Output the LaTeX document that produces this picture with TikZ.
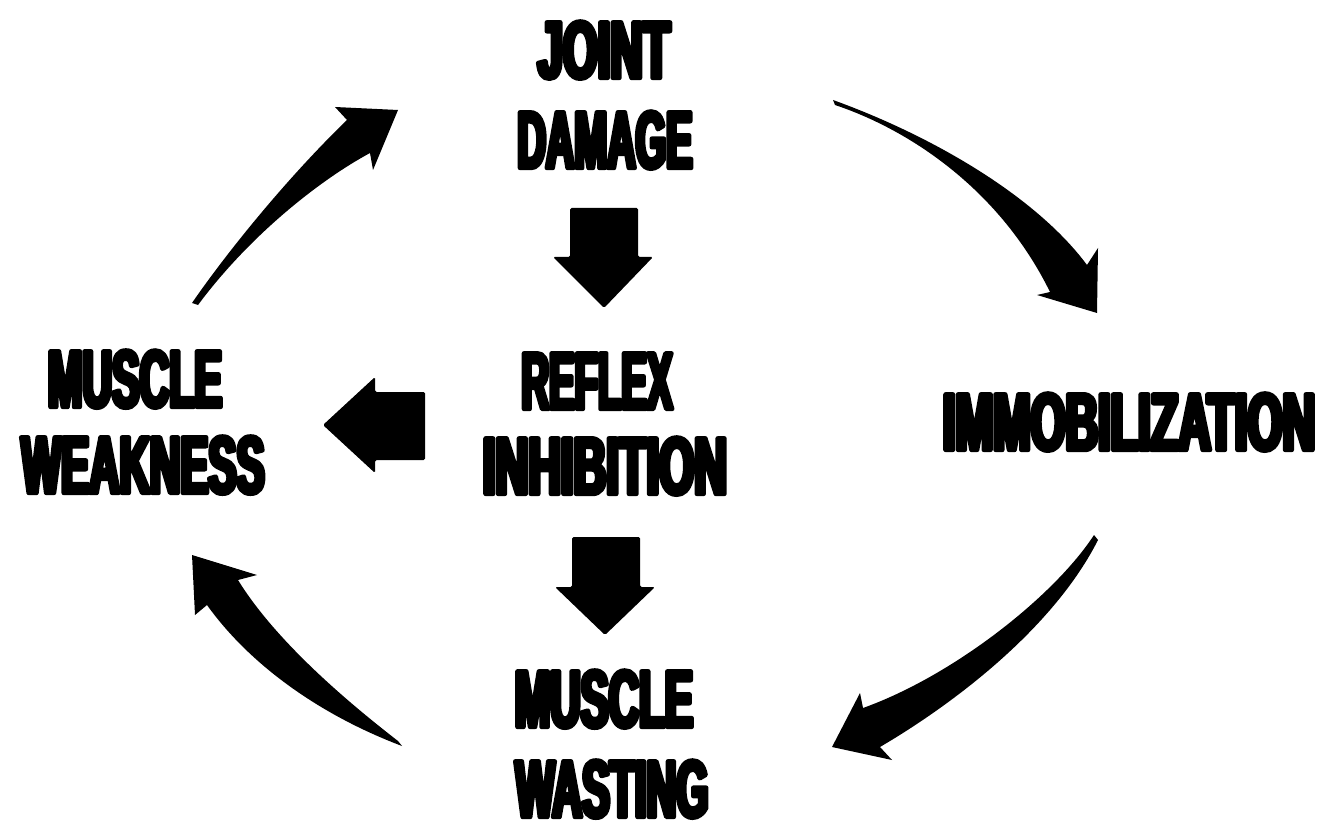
\documentclass[tikz,border=0pt]{standalone}
\usepackage{fontspec}
\usepackage{graphicx}
\newfontfamily\heavy[FakeStretch=0.45,FakeBold=5.5]{Liberation Sans Bold}
% #1 target width (pt), #2 text
\newcommand\hw[2]{\resizebox{#1pt}{\height}{\heavy\fontsize{81}{81}\selectfont #2}}
\tikzset{
  word/.style={anchor=base, inner sep=0pt, outer sep=0pt},
  blockarrow/.style={fill=black, rounded corners=1.5pt},
  curvearrow/.style={fill=black, line join=round}
}
\begin{document}
\begin{tikzpicture}[x=1pt,y=-1pt]
\useasboundingbox (0,0) rectangle (1323,829);
% labels
\begin{scope}[line join=round, line cap=round]
\node[word] (joint)  at (604,78)  {\hw{132}{JOINT}};
\node[word] (damage) at (605,168) {\hw{175}{DAMAGE}};
\node[word] (reflex) at (597,409) {\hw{151}{REFLEX}};
\node[word] (inhib)  at (605,494) {\hw{244}{INHIBITION}};
\node[word] (mus2)   at (604,727) {\hw{178}{MUSCLE}};
\node[word] (wast)   at (612,817) {\hw{193}{WASTING}};
\node[word] (mus1)   at (135,407) {\hw{174}{MUSCLE}};
\node[word] (weak)   at (143,493) {\hw{243}{WEAKNESS}};
\node[word] (immob)  at (1129,450){\hw{372}{IMMOBILIZATION}};
\end{scope}
% block arrows
\fill[blockarrow] (570,208) -- (638,208) -- (638,257) -- (653,257) -- (604,308) -- (553,257) -- (570,257) -- cycle;
\fill[blockarrow] (425,392) -- (425,460) -- (375,460) -- (375,473) -- (323,425) -- (375,377) -- (375,392) -- cycle;
\fill[blockarrow] (572,537) -- (640,537) -- (640,587) -- (655,587) -- (605,635) -- (555,587) -- (572,587) -- cycle;
% curved arrows
\fill[curvearrow] (192,303) .. controls (225,255) and (285,180) .. (347,120)
  -- (335,107) -- (398,110) -- (373,170) -- (370,153)
  .. controls (320,180) and (250,235) .. (198,305) -- cycle;
\fill[curvearrow] (833,100) .. controls (930,135) and (1035,195) .. (1087,265)
  -- (1098,248) -- (1097,313) -- (1037,295) -- (1050,292)
  .. controls (1000,190) and (910,130) .. (835,105) -- cycle;
\fill[curvearrow] (1094,535) .. controls (1055,595) and (955,675) .. (863,708)
  -- (860,693) -- (832,747) -- (892,760) -- (880,747)
  .. controls (960,700) and (1055,625) .. (1098,540) -- cycle;
\fill[curvearrow] (398,741) .. controls (345,700) and (275,640) .. (238,580)
  -- (257,575) -- (192,555) -- (195,615) -- (207,605)
  .. controls (250,665) and (320,715) .. (402,746) -- cycle;
\end{tikzpicture}
\end{document}
